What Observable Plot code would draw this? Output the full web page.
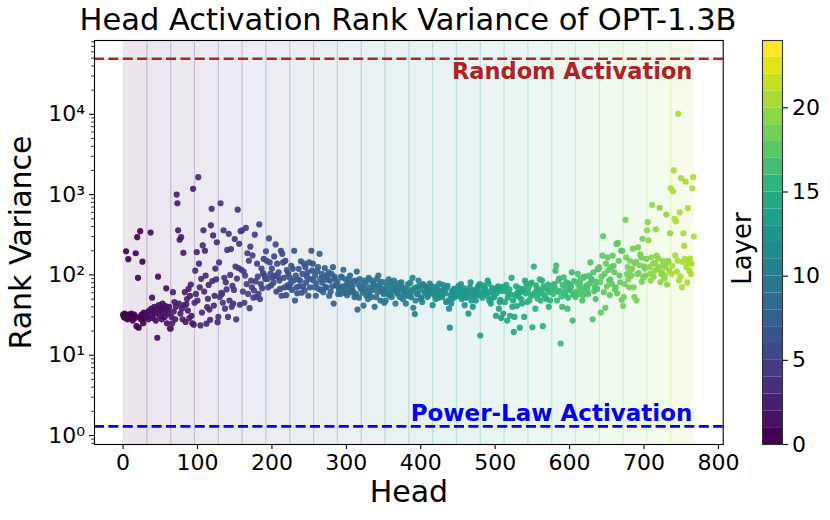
<!DOCTYPE html>
<html>
<head>
<meta charset="utf-8">
<script src="https://cdn.jsdelivr.net/npm/d3@7"></script>
<script src="https://cdn.jsdelivr.net/npm/@observablehq/plot@0.6"></script>
<style>
  body { margin: 0; background: #fff; font-family: "DejaVu Sans", sans-serif; }
  #wrap { position: relative; width: 830px; height: 520px; overflow: hidden; background: #fff; }
  #title { position: absolute; left: 0; top: 5px; width: 816px; text-align: center;
           font-size: 30.5px; line-height: 30px; color: #000; white-space: nowrap; }
  #main { position: absolute; left: 0; top: 0; }
  #cbar { position: absolute; left: 700px; top: 0; }
</style>
</head>
<body>
<div id="wrap">
  <div id="main"></div>
  <div id="cbar"></div>
  <div id="title">Head Activation Rank Variance of OPT-1.3B</div>
</div>
<script>
// Rank variance per head, one array per layer (32 heads each)
const L00 = [32,30,33,29,197,31,28,157,32,30,29,33,31,27,30,32,29,186,23,295,92,22,30,350,28,32,146,25,34,29,31,31];
const L01 = [30,34,28,36,31,337,38,52,29,35,40,33,27,37,16.5,95,42,31,36,39,28,44,34,38,30,41,68,25,37,33,40,21.5];
const L02 = [21.5,30,25,61,35,46,28,40,1000,780,360,44,274,33,295,38,28,188,42,61,26,43,50,36,67,29,55,76,31,25,1180,24];
const L03 = [45,113,58,192,48,1650,138,70,23.5,89.5,34,233,360,62,200,98,24.7,39.6,50.5,75,37,27.6,415,665,84,310,41.5,55,120,88,255,25.8];
const L04 = [30,143,53,780,60,58,45,360,92,38,81,66,205,30,325,48,100,210,40,73,44,65,280,127,28,90,650,122,244,42.5,350,116];
const L05 = [360,62,110,45,98,385,77,186,58,150,38.5,225,85,70,175,52,64,317,83,53,138,95,58,425,50,77,120,68,105,158,98,89];
const L06 = [197,150,89,70,285,143,103,74,120,93,80,170,98,240,62,138,95,108,85,67,200,55,183,143,92,70,150,56,115,74,103,70];
const L07 = [92,78,130,65,119,85,200,48,98,70,59,88,119,72,85,148,60,103,72,138,64,125,81,95,108,55,143,70,89,200,113,138];
const L08 = [85,70,98,55,78,112,125,67,183,89,65,103,80,61,93,122,70,70,98,87,108,55,85,62,103,72,125,44,95,89,76,74];
const L09 = [82,58,66,70,58,95,93,72,116,60,64,88,74,56,79,89,67,98,61,77,71,63,84,53,85,58,110,37,76,52,89,69];
const L10 = [67,74,60,41.5,85,67,79,55,63,50,92,57,70,86,53,65,81,76,40,72,53,89,61,98,70,77,48,82,67,62,58,45];
const L11 = [81,48,72,65,58,88,56,81,74,53,62,67,85,77,44,69,61,58,70,79,53,66,81,71,50,58,63,67,44,61,55,77];
const L12 = [65,55,80,53,62,92,39,68,32.5,48,70,58,58,85,73,66,50,52,46,77,74,61,60,70,68,53,56,64,78,63,73,59];
const L13 = [42,60,70,55,50,66,72,58,52,78,61,64,57,53,75,63,68,59,46,69,73,48,38,22,56,44,62,51,65,67,58,54];
const L14 = [62,55,70,73,58,66,77,50,56,60,68,42,52,64,61,53,33,57,70,81,48,63,40,54,58,65,48,59,67,72,56,77];
const L15 = [17.6,56,62,52,74,70,60,66,58,55,85,78,48,61,44,50,69,64,57,53,64,31,59,68,72,38,46,49,29,63,71,33];
const L16 = [70,46,63,75,27,52,58,66,31,57,92,40,48,19.5,30,56,72,41,60,54,68,22,61,50,44,64,67,30,85,59,78,46];
const L17 = [62,70,48,77,55,80,22.3,56,127,60,38,74,67,51,66,58,88,48,63,85,23,72,57,53,69,50,67,76,40,61,48,65];
const L18 = [73,66,58,77,70,113,131,48,62,85,90,64,14,54,40,75,93,60,56,68,81,38,52,78,64,67,72,108,27,57,84,58];
const L19 = [53,62,80,103,58,72,77,88,64,48,55,93,95,70,60,74,66,58,98,78,143,90,85,28,108,63,71,50,82,67,119,118];
const L20 = [125,81,34,95,174,303,61,103,39,138,72,165,115,85,56,88,125,77,174,130,108,66,70,243,59,250,150,98,81,200,49,200];
const L21 = [41,53,77,486,165,103,125,88,70,150,115,98,120,212,70,53,140,145,48,103,220,105,132,180,165,82,282,93,128,120,98,158];
const L22 = [360,453,270,125,103,85,166,747,138,95,113,140,370,174,118,160,125,686,81,103,108,150,132,90,98,125,565,76,150,145,112,330];
const L23 = [1200,103,130,1100,2000,500,175,465,110,150,10140,85,600,95,1600,70,145,330,230,158,1450,125,80,680,145,113,160,103,138,1200,1650,300];

const layerValues = [L00,L01,L02,L03,L04,L05,L06,L07,L08,L09,L10,L11,L12,L13,L14,L15,L16,L17,L18,L19,L20,L21,L22,L23];
const headsPerLayer = 32;
const randomLevel = 49152;      // (768^2)/12
const powerLawLevel = 1.3;
const xTicks = [0,100,200,300,400,500,600,700,800];
const yTicks = [1,10,100,1000,10000];
const cbarTicks = [0,5,10,15,20];
const layers = d3.range(layerValues.length);

// Build table
const points = [];
layerValues.forEach((arr, L) => arr.forEach((v, k) => points.push({head: L*headsPerLayer + k, value: v, layer: L})));
const boundaries = d3.range(1, layerValues.length);
const minorTicks = [];
for (let e = -1; e <= 4; e++) for (let m = 2; m <= 9; m++) {
  const v = m * Math.pow(10, e);
  if (v >= 0.773 && v <= 82990) minorTicks.push(v);
}
const sup = {"-1":"⁻¹", "0":"⁰", "1":"¹", "2":"²", "3":"³", "4":"⁴"};
const font = "DejaVu Sans";

const main = Plot.plot({
  width: 740, height: 520,
  marginLeft: 94, marginRight: 17.3, marginTop: 40, marginBottom: 76,
  style: {fontFamily: font, fontSize: "22px", color: "#000", background: "transparent", overflow: "visible"},
  x: {domain: [-38.4, 806.4]},
  y: {type: "log", domain: [0.773, 82990]},
  color: {type: "linear", scheme: "viridis", domain: [0, 26.5]},
  marks: [
    Plot.rect(layers, {x1: d => d*headsPerLayer, x2: d => (d+1)*headsPerLayer, fill: d => d, fillOpacity: 0.1}),
    Plot.ruleX(boundaries, {x: d => d*headsPerLayer, stroke: d => d, strokeOpacity: 0.22, strokeWidth: 1.2}),
    Plot.ruleY([randomLevel], {stroke: "#b22222", strokeWidth: 2.7, strokeDasharray: "10,4.4"}),
    Plot.ruleY([powerLawLevel], {stroke: "#0000ff", strokeWidth: 2.7, strokeDasharray: "10,4.4"}),
    Plot.dot(points, {x: "head", y: "value", fill: "layer", r: 3.1, fillOpacity: 0.92}),
    Plot.text(["Random Activation"], {x: 765, y: randomLevel, textAnchor: "end", lineAnchor: "middle", dy: 13, fill: "#b22222", fontWeight: "bold", fontSize: 22.5}),
    Plot.text(["Power-Law Activation"], {x: 765, y: powerLawLevel, textAnchor: "end", lineAnchor: "middle", dy: -13, fill: "#0000ff", fontWeight: "bold", fontSize: 23}),
    Plot.frame({stroke: "#000", strokeWidth: 1.1}),
    Plot.axisX({ticks: xTicks, tickSize: 4.9, tickPadding: 4.5, fontSize: 22, label: null, strokeWidth: 1.1}),
    Plot.axisY({ticks: yTicks, tickSize: 4.9, tickPadding: 4.5, fontSize: 22, label: null, strokeWidth: 1.1,
                tickFormat: d => "10" + sup[String(Math.round(Math.log10(d)))]}),
    Plot.axisY({ticks: minorTicks, tickSize: 2.8, fill: "none", label: null, strokeWidth: 0.85}),
    Plot.text(["Head"], {frameAnchor: "bottom", dy: 48, fontSize: 30, lineAnchor: "middle"}),
    Plot.text(["Rank Variance"], {frameAnchor: "left", dx: -73, rotate: -90, fontSize: 30, textAnchor: "middle", lineAnchor: "middle"})
  ]
});
document.getElementById("main").appendChild(main);

const cbar = Plot.plot({
  width: 130, height: 520,
  marginLeft: 62, marginRight: 48, marginTop: 40, marginBottom: 76,
  style: {fontFamily: font, fontSize: "22px", color: "#000", background: "transparent", overflow: "visible"},
  y: {domain: [0, 24]},
  color: {type: "linear", scheme: "viridis", domain: [0, 23]},
  marks: [
    Plot.rect(layers, {y1: d => d, y2: d => d + 1, fill: d => d}),
    Plot.frame({stroke: "#333", strokeWidth: 1.1}),
    Plot.axisY({anchor: "right", ticks: cbarTicks, tickSize: 4.9, tickPadding: 4.5, fontSize: 22, label: null, strokeWidth: 1.1}),
    Plot.text(["Layer"], {frameAnchor: "left", dx: -20, dy: 6, rotate: -90, fontSize: 26, textAnchor: "middle", lineAnchor: "middle"})
  ]
});
document.getElementById("cbar").appendChild(cbar);
</script>
</body>
</html>
